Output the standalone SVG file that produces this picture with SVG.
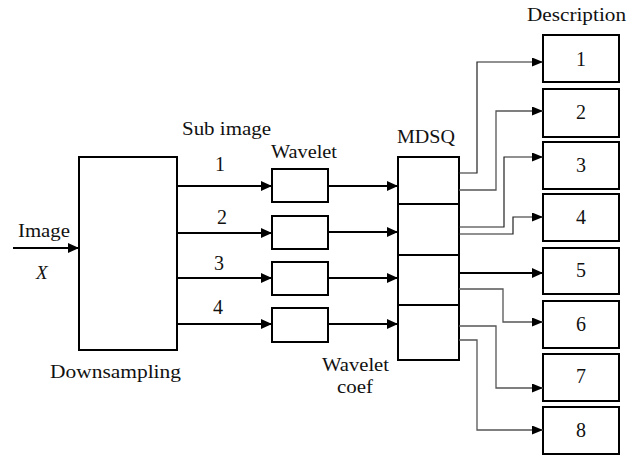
<svg xmlns="http://www.w3.org/2000/svg" width="638" height="457" viewBox="0 0 638 457">
<defs>
<marker id="ah" markerUnits="userSpaceOnUse" markerWidth="12" markerHeight="10" refX="11" refY="5" orient="auto">
<path d="M0,0 L11,5 L0,10 Z" fill="#000"/>
</marker>
<marker id="ahs" markerUnits="userSpaceOnUse" markerWidth="12" markerHeight="10" refX="11" refY="4.5" orient="auto">
<path d="M0,0 L11,4.5 L0,9 Z" fill="#000"/>
</marker>
</defs>
<rect width="638" height="457" fill="#fff"/>

<text font-family="Liberation Serif" font-size="19" fill="#111" x="527" y="21" textLength="99" lengthAdjust="spacingAndGlyphs">Description</text>
<text font-family="Liberation Serif" font-size="19" fill="#111" x="182" y="135" textLength="89" lengthAdjust="spacingAndGlyphs">Sub image</text>
<text font-family="Liberation Serif" font-size="19" fill="#111" x="271" y="158" textLength="66" lengthAdjust="spacingAndGlyphs">Wavelet</text>
<text font-family="Liberation Serif" font-size="19" fill="#111" x="397" y="143" textLength="58" lengthAdjust="spacingAndGlyphs">MDSQ</text>
<text font-family="Liberation Serif" font-size="19" fill="#111" x="18" y="237" textLength="52" lengthAdjust="spacingAndGlyphs">Image</text>
<text font-family="Liberation Serif" font-size="19" fill="#111" font-style="italic" x="36" y="279">X</text>
<text font-family="Liberation Serif" font-size="19" fill="#111" x="50" y="378" textLength="131" lengthAdjust="spacingAndGlyphs">Downsampling</text>
<text font-family="Liberation Serif" font-size="19" fill="#111" x="322" y="371" textLength="67" lengthAdjust="spacingAndGlyphs">Wavelet</text>
<text font-family="Liberation Serif" font-size="19" fill="#111" x="337" y="393" textLength="36" lengthAdjust="spacingAndGlyphs">coef</text>
<text font-family="Liberation Serif" font-size="20" fill="#111" text-anchor="middle" x="220" y="171">1</text>
<text font-family="Liberation Serif" font-size="20" fill="#111" text-anchor="middle" x="222" y="224">2</text>
<text font-family="Liberation Serif" font-size="20" fill="#111" text-anchor="middle" x="219" y="270">3</text>
<text font-family="Liberation Serif" font-size="20" fill="#111" text-anchor="middle" x="218" y="314">4</text>

<g id="downsampling"><rect fill="#fff" stroke="#000" stroke-width="2" x="79" y="157" width="98" height="193"/></g>

<g id="wavelet1"><rect fill="#fff" stroke="#000" stroke-width="2" x="272" y="169" width="56" height="33"/></g>
<g id="wavelet2"><rect fill="#fff" stroke="#000" stroke-width="2" x="272" y="216" width="56" height="33"/></g>
<g id="wavelet3"><rect fill="#fff" stroke="#000" stroke-width="2" x="272" y="262" width="56" height="33"/></g>
<g id="wavelet4"><rect fill="#fff" stroke="#000" stroke-width="2" x="272" y="308" width="56" height="34"/></g>

<g id="mdsq1"><rect fill="#fff" stroke="#000" stroke-width="2" x="398" y="157" width="61" height="47"/></g>
<g id="mdsq2"><rect fill="#fff" stroke="#000" stroke-width="2" x="398" y="204" width="61" height="51"/></g>
<g id="mdsq3"><rect fill="#fff" stroke="#000" stroke-width="2" x="398" y="255" width="61" height="50"/></g>
<g id="mdsq4"><rect fill="#fff" stroke="#000" stroke-width="2" x="398" y="305" width="61" height="55"/></g>

<g id="desc1"><rect fill="#fff" stroke="#000" stroke-width="2" x="543" y="35" width="76" height="47"/><text font-family="Liberation Serif" font-size="20" fill="#111" text-anchor="middle" x="581" y="66">1</text></g>
<g id="desc2"><rect fill="#fff" stroke="#000" stroke-width="2" x="543" y="89" width="76" height="48"/><text font-family="Liberation Serif" font-size="20" fill="#111" text-anchor="middle" x="581" y="119">2</text></g>
<g id="desc3"><rect fill="#fff" stroke="#000" stroke-width="2" x="543" y="142" width="76" height="47"/><text font-family="Liberation Serif" font-size="20" fill="#111" text-anchor="middle" x="581" y="172">3</text></g>
<g id="desc4"><rect fill="#fff" stroke="#000" stroke-width="2" x="543" y="194" width="76" height="47"/><text font-family="Liberation Serif" font-size="20" fill="#111" text-anchor="middle" x="581" y="224">4</text></g>
<g id="desc5"><rect fill="#fff" stroke="#000" stroke-width="2" x="543" y="248" width="76" height="46"/><text font-family="Liberation Serif" font-size="20" fill="#111" text-anchor="middle" x="581" y="277">5</text></g>
<g id="desc6"><rect fill="#fff" stroke="#000" stroke-width="2" x="543" y="301" width="76" height="47"/><text font-family="Liberation Serif" font-size="20" fill="#111" text-anchor="middle" x="581" y="331">6</text></g>
<g id="desc7"><rect fill="#fff" stroke="#000" stroke-width="2" x="543" y="354" width="76" height="47"/><text font-family="Liberation Serif" font-size="20" fill="#111" text-anchor="middle" x="581" y="383">7</text></g>
<g id="desc8"><rect fill="#fff" stroke="#000" stroke-width="2" x="543" y="407" width="76" height="47"/><text font-family="Liberation Serif" font-size="20" fill="#111" text-anchor="middle" x="581" y="437">8</text></g>

<g id="connectors" fill="none">
<g stroke="#000" stroke-width="2.2" marker-end="url(#ah)">
<path d="M13,248 H79"/>
<path d="M177,186 H272"/>
<path d="M177,233 H272"/>
<path d="M177,278 H272"/>
<path d="M177,324 H272"/>
<path d="M328,186 H398"/>
<path d="M328,232 H398"/>
<path d="M328,278 H398"/>
<path d="M328,324 H398"/>
<path d="M459,273 H543"/>
</g>
<g stroke="#222" stroke-width="1.2" marker-end="url(#ahs)">
<path d="M459,173 H477 V62 H543"/>
<path d="M459,227 H504 V157 H543"/>
<path d="M459,234 H513 V217 H543"/>
</g>
<g stroke="#555" stroke-width="1.3" marker-end="url(#ahs)">
<path d="M459,190 H496 V111 H543"/>
<path d="M459,289 H503 V322 H543"/>
<path d="M459,326 H496 V388 H543"/>
<path d="M459,340 H477 V430 H543"/>
</g>
</g>
</svg>
